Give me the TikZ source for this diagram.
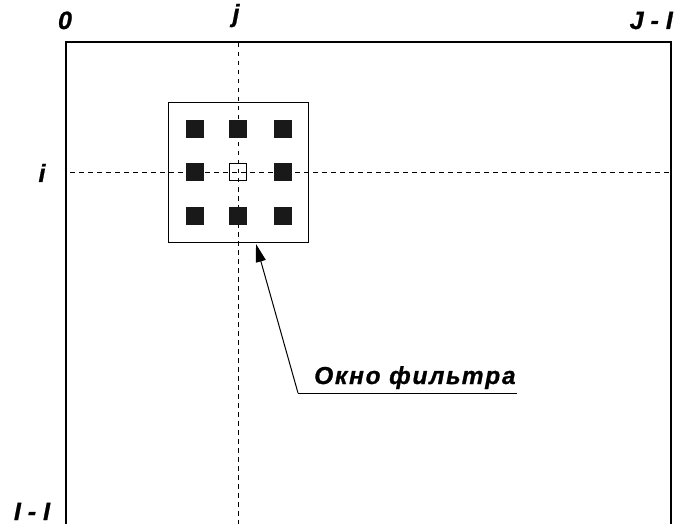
\documentclass[tikz,border=0pt]{standalone}
\usepackage{fontspec}
\setmainfont{Liberation Sans}
\newfontfamily\axisfont[FakeBold=0.9]{Liberation Sans}
\newfontfamily\lblfont[LetterSpace=7, FakeBold=0.9]{Liberation Sans}
\usetikzlibrary{arrows.meta}
\tikzset{
  frameline/.style={line width=2.6pt, line cap=butt},
  guide/.style={line width=1pt, dash pattern=on 4.5pt off 4.5pt},
  winbox/.style={draw, line width=1pt, minimum size=140pt, inner sep=0pt},
  pix/.style={fill=black!90, minimum size=18pt, inner sep=0pt},
  cpix/.style={draw, line width=1pt, fill=none, minimum size=17pt, inner sep=0pt},
  lbl/.style={font=\fontsize{25}{28}\axisfont\bfseries\itshape, inner sep=0pt},
  capt/.style={font=\fontsize{24.5}{28}\lblfont\bfseries\itshape, inner sep=0pt},
  callout/.style={line width=1pt},
}
\begin{document}
\begin{tikzpicture}[x=1pt, y=-1pt]
  \useasboundingbox (0,0) rectangle (675,524);
  % image frame (open at the bottom)
  \coordinate (fbl) at (66,524);
  \coordinate (ftl) at (66,42);
  \coordinate (ftr) at (671,42);
  \coordinate (fbr) at (671,524);
  \draw[frameline] (fbl) -- (ftl) -- (ftr) -- (fbr);
  % row and column guides
  \coordinate (ct) at (238,43);
  \coordinate (cb) at (238,524);
  \coordinate (rl) at (70,172.5);
  \coordinate (rr) at (670,172.5);
  \draw[guide] (ct) -- (cb);
  \draw[guide] (rl) -- (rr);
  % filter window
  \node[winbox] (win) at (238,172.5) {};
  \foreach \c/\x in {l/195,m/238,r/283}
    \foreach \r/\y in {t/129,b/216}
      \node[pix] (p\c\r) at (\x,\y) {};
  \node[pix] (plm) at (195,172.5) {};
  \node[pix] (prm) at (283,172.5) {};
  \node[cpix] (cen) at (238,172.5) {};
  % axis labels
  \node[lbl, anchor=base] (l0) at (65,29) {0};
  \node[lbl, anchor=base] (lj) at (236,22) {j};
  \node[lbl, anchor=base east] (lJ) at (673,29) {J - I};
  \node[lbl, anchor=base] (li) at (42,182) {i};
  \node[lbl, anchor=base] (lI) at (32,520) {I - I};
  % callout
  \node[capt, anchor=base west] (cap) at (314,384) {Окно фильтра};
  \coordinate (knee) at (298,393);
  \coordinate (tail) at (517,393);
  \coordinate (tip) at (256,244);
  \draw[callout] (tail) -- (knee);
  \draw[callout, -{Triangle[length=18pt, width=10pt]}] (knee) -- (tip);
\end{tikzpicture}
\end{document}
